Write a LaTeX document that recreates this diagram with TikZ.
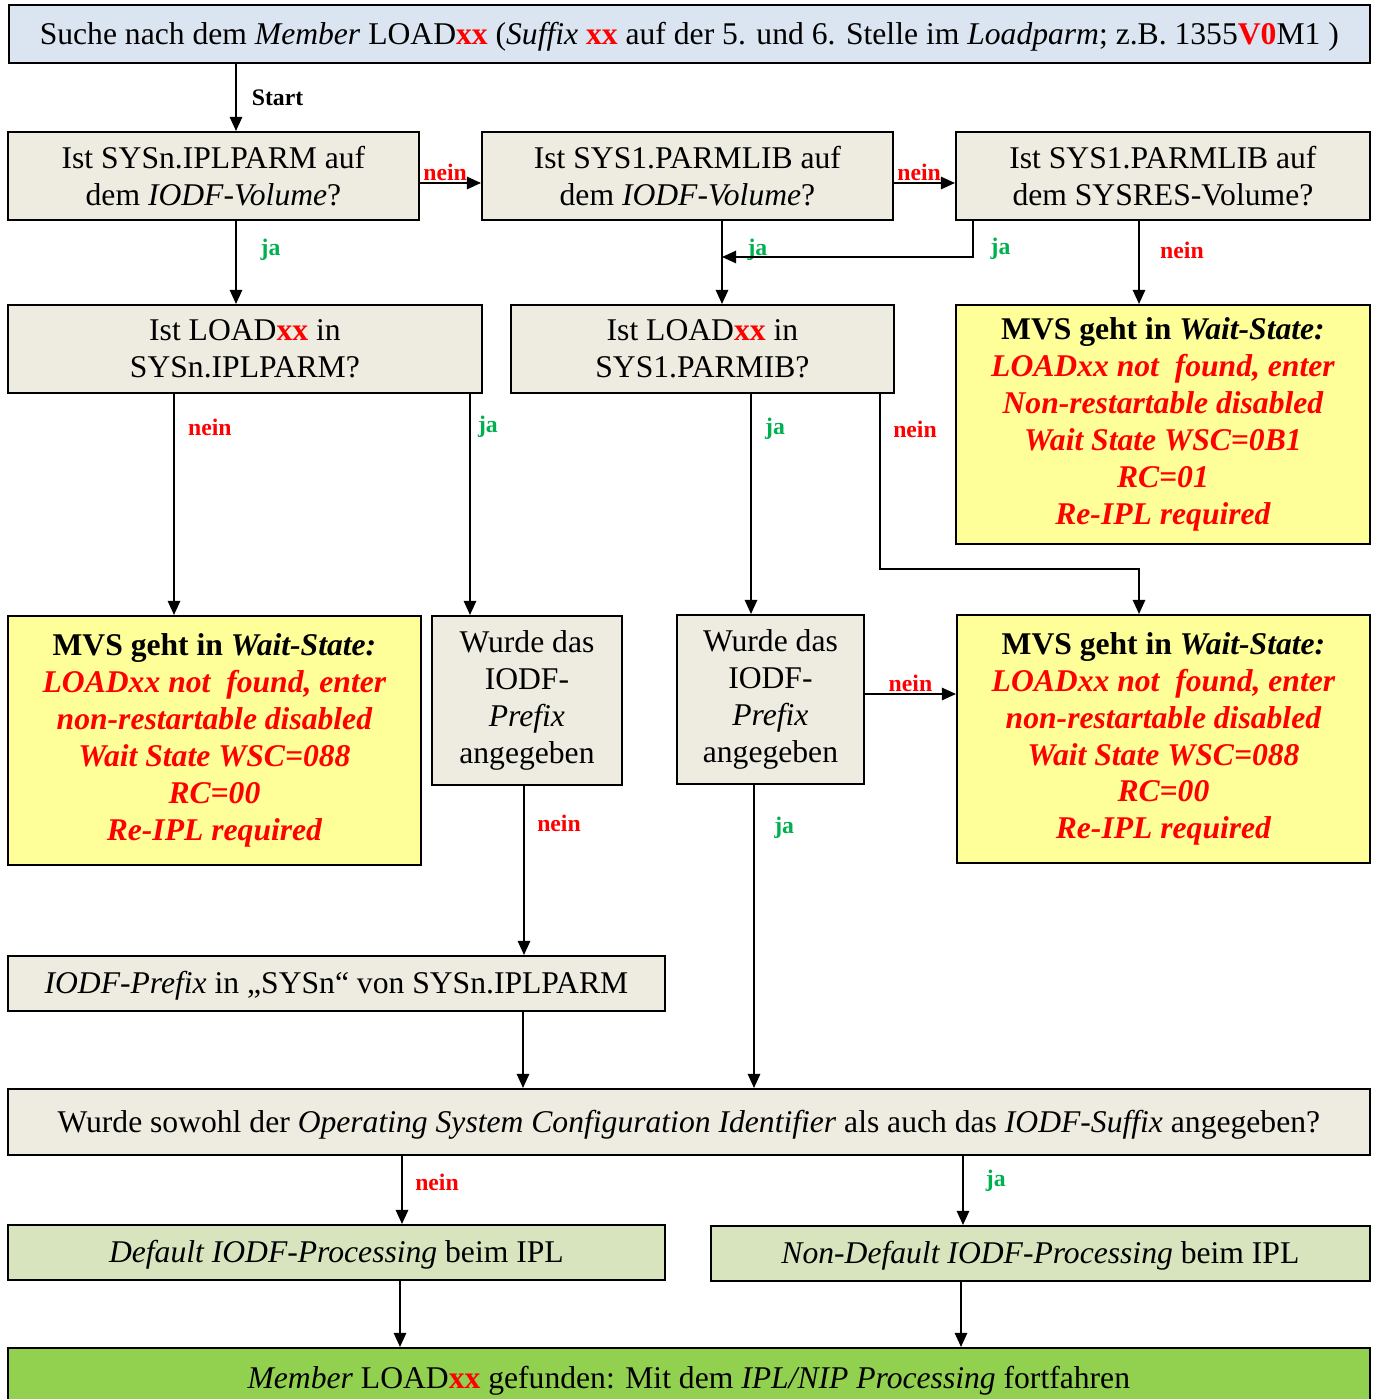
\documentclass[tikz,border=0pt]{standalone}
\usepackage{fontspec}
\setmainfont{Liberation Serif}
\usepackage{xcolor}
\usetikzlibrary{arrows.meta}
\definecolor{boxGrey}{HTML}{EEECE1}
\definecolor{boxBlue}{HTML}{DBE5F1}
\definecolor{boxYellow}{HTML}{FFFF99}
\definecolor{boxLightGreen}{HTML}{D7E4BD}
\definecolor{boxGreen}{HTML}{92D050}
\definecolor{jaGreen}{HTML}{00B050}
\newcommand{\xxred}{\textcolor{red}{\textbf{xx}}}
\tikzstyle{fBase} = [rectangle, anchor=north west, draw=black, line width=1.1pt, inner sep=0pt, align=center, font=\fontsize{18}{21}\selectfont]
\tikzstyle{fLowered} = [fBase, execute at begin node={\rule{0pt}{15.5pt}}]
\tikzstyle{fTitle} = [fLowered, fill=boxBlue]
\tikzstyle{fQuestion} = [fLowered, fill=boxGrey]
\tikzstyle{fWait} = [fBase, fill=boxYellow, text=red, font=\fontsize{18}{21}\selectfont\bfseries\itshape]
\tikzstyle{fProcess} = [fLowered, fill=boxLightGreen]
\tikzstyle{fFinal} = [fLowered, fill=boxGreen]
\tikzstyle{fArrow} = [line width=1.1pt, -{Triangle[length=8pt, width=7pt]}]
\tikzstyle{fLabel} = [inner sep=0pt, font=\fontsize{13.5}{15}\selectfont\bfseries]
\tikzstyle{fYes} = [fLabel, text=jaGreen]
\tikzstyle{fNo} = [fLabel, text=red]
\begin{document}
\begin{tikzpicture}[x=0.02cm, y=-0.02cm]
    \useasboundingbox (0,0) rectangle (1375,1399);
    % boxes
    \node (search) [fTitle, minimum width=27.22cm, minimum height=1.16cm] at (8,4) {Suche nach dem \textit{Member} LOAD\xxred{} (\textit{Suffix} \xxred{} auf der 5. und 6. Stelle im \textit{Loadparm}; z.B. 1355\textcolor{red}{\textbf{V0}}M1 )};
    \node (iplvol) [fQuestion, minimum width=8.22cm, minimum height=1.76cm] at (7,131) {Ist SYSn.IPLPARM auf\\dem \textit{IODF-Volume}?};
    \node (parmvol) [fQuestion, minimum width=8.22cm, minimum height=1.76cm] at (481,131) {Ist SYS1.PARMLIB auf\\dem \textit{IODF-Volume}?};
    \node (parmres) [fQuestion, minimum width=8.28cm, minimum height=1.76cm] at (955,131) {Ist SYS1.PARMLIB auf\\dem SYSRES-Volume?};
    \node (loadipl) [fQuestion, minimum width=9.48cm, minimum height=1.76cm] at (7,304) {Ist LOAD\xxred{} in\\SYSn.IPLPARM?};
    \node (loadparm) [fQuestion, minimum width=7.66cm, minimum height=1.76cm] at (510,304) {Ist LOAD\xxred{} in\\SYS1.PARMIB?};
    \node (waitres) [fWait, minimum width=8.28cm, minimum height=4.78cm] at (955,304) {{\color{black}\upshape MVS geht in \itshape Wait-State:}\\LOADxx not~ found, enter\\Non-restartable disabled\\Wait State WSC=0B1\\RC=01\\Re-IPL required};
    \node (waitipl) [fWait, minimum width=8.26cm, minimum height=4.98cm] at (7,615) {{\color{black}\upshape MVS geht in \itshape Wait-State:}\\LOADxx not~ found, enter\\non-restartable disabled\\Wait State WSC=088\\RC=00\\Re-IPL required};
    \node (prefipl) [fQuestion, minimum width=3.80cm, minimum height=3.38cm] at (431,615) {Wurde das\\IODF-\\\textit{Prefix}\\angegeben};
    \node (prefparm) [fQuestion, minimum width=3.74cm, minimum height=3.38cm] at (676,614) {Wurde das\\IODF-\\\textit{Prefix}\\angegeben};
    \node (waitparm) [fWait, minimum width=8.26cm, minimum height=4.96cm] at (956,614) {{\color{black}\upshape MVS geht in \itshape Wait-State:}\\LOADxx not~ found, enter\\non-restartable disabled\\Wait State WSC=088\\RC=00\\Re-IPL required};
    \node (prefsysn) [fQuestion, minimum width=13.14cm, minimum height=1.10cm] at (7,955) {\textit{IODF-Prefix} in „SYSn“ von SYSn.IPLPARM};
    \node (osconfig) [fQuestion, minimum width=27.24cm, minimum height=1.32cm] at (7,1088) {Wurde sowohl der \textit{Operating System Configuration Identifier} als auch das \textit{IODF-Suffix} angegeben?};
    \node (defiodf) [fProcess, minimum width=13.14cm, minimum height=1.10cm] at (7,1224) {\textit{Default IODF-Processing} beim IPL};
    \node (nondefiodf) [fProcess, minimum width=13.18cm, minimum height=1.10cm] at (710,1225) {\textit{Non-Default IODF-Processing} beim IPL};
    \node (found) [fFinal, minimum width=27.24cm, minimum height=1.22cm] at (7,1347) {\textit{Member} LOAD\xxred{} gefunden: Mit dem \textit{IPL/NIP Processing} fortfahren};
    \coordinate (jaMerge) at (722,257);
    \coordinate (neinBend) at (1000,569);

    % connectors
    \draw [fArrow] (236,0 |- search.south) -- node[fLabel, right=8.5pt] {Start} (236,0 |- iplvol.north);
    \draw [fArrow] (iplvol.east |- 0,183) -- node[fNo, above=1pt, xshift=-3pt] {nein} (parmvol.west |- 0,183);
    \draw [fArrow] (parmvol.east |- 0,183) -- node[fNo, above=1pt, xshift=-3pt] {nein} (parmres.west |- 0,183);
    \draw [fArrow] (236,0 |- iplvol.south) -- node[fYes, pos=0.35, right=13.5pt] {ja} (236,0 |- loadipl.north);
    \draw [fArrow] (722,0 |- parmvol.south) -- node[fYes, pos=0.35, right=14pt] {ja} (722,0 |- loadparm.north);
    \draw [fArrow] (973,0 |- parmres.south) |- node[fYes, pos=0.38, right=9.5pt] {ja} (jaMerge);
    \draw [fArrow] (1139,0 |- parmres.south) -- node[fNo, pos=0.35, right=11.5pt] {nein} (1139,0 |- waitres.north);
    \draw [fArrow] (174,0 |- loadipl.south) -- node[fNo, pos=0.15, right=7.5pt] {nein} (174,0 |- waitipl.north);
    \draw [fArrow] (470,0 |- loadipl.south) -- node[fYes, pos=0.15, right=4pt] {ja} (470,0 |- prefipl.north);
    \draw [fArrow] (751,0 |- loadparm.south) -- node[fYes, pos=0.16, right=7.5pt] {ja} (751,0 |- prefparm.north);
    \draw [fArrow] (880,0 |- loadparm.south) |- node[fNo, pos=0.1, right=7pt] {nein} (neinBend) -| (1139,0 |- waitparm.north);
    \draw [fArrow] (prefparm.east |- 0,694) -- node[fNo, above=1pt] {nein} (waitparm.west |- 0,694);
    \draw [fArrow] (524,0 |- prefipl.south) -- node[fNo, pos=0.22, right=7pt] {nein} (524,0 |- prefsysn.north);
    \draw [fArrow] (754,0 |- prefparm.south) -- node[fYes, pos=0.14, right=11pt] {ja} (754,0 |- osconfig.north);
    \draw [fArrow] (523,0 |- prefsysn.south) -- (523,0 |- osconfig.north);
    \draw [fArrow] (402,0 |- osconfig.south) -- node[fNo, pos=0.39, right=7pt] {nein} (402,0 |- defiodf.north);
    \draw [fArrow] (963,0 |- osconfig.south) -- node[fYes, pos=0.36, right=12.5pt] {ja} (963,0 |- nondefiodf.north);
    \draw [fArrow] (400,0 |- defiodf.south) -- (400,0 |- found.north);
    \draw [fArrow] (961,0 |- nondefiodf.south) -- (961,0 |- found.north);
\end{tikzpicture}
\end{document}
